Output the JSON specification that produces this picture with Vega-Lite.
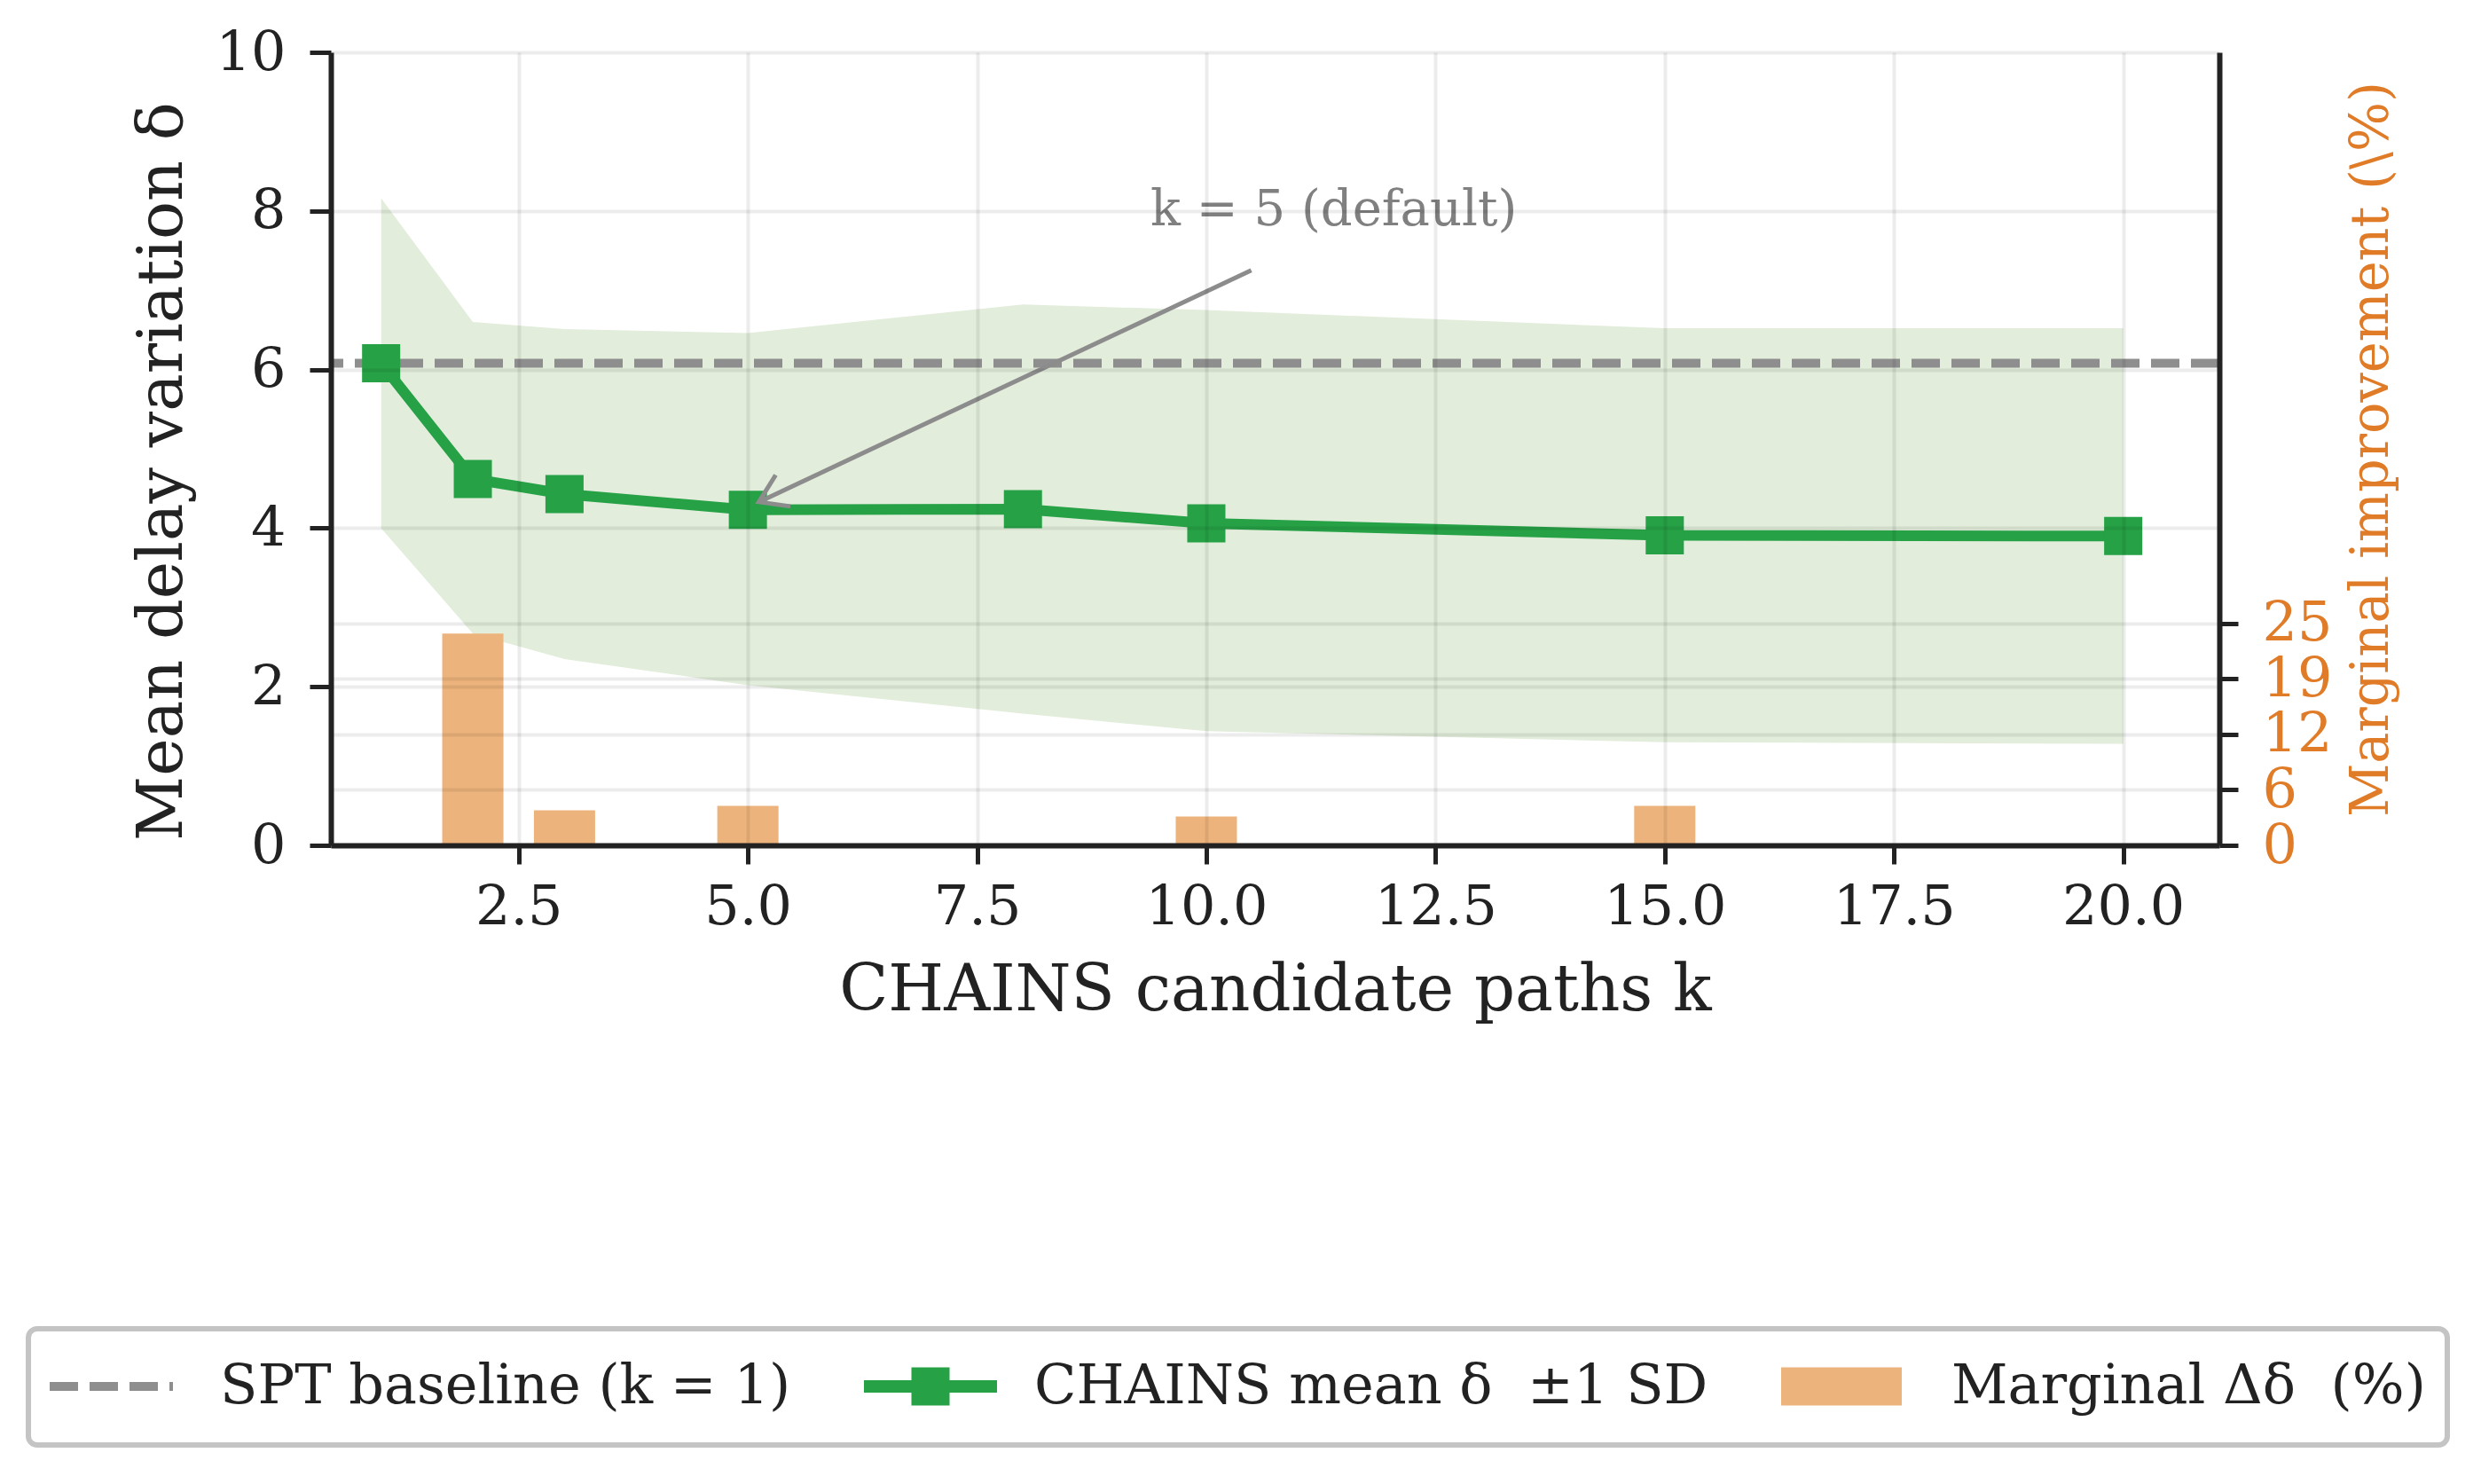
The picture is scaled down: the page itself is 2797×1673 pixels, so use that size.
{
  "$schema": "https://vega.github.io/schema/vega-lite/v6.json",
  "width": 2129,
  "height": 894,
  "autosize": {"type": "none"},
  "padding": {"left": 373, "top": 59, "right": 295, "bottom": 720},
  "background": "white",
  "config": {
    "font": "DejaVu Serif",
    "view": {"stroke": null},
    "legend": {"strokeWidth": 6}
  },
  "datasets": {
    "stats": [
      {"k": 1, "mean": 6.08, "lo": 4.00, "hi": 8.16},
      {"k": 2, "mean": 4.62, "lo": 2.67, "hi": 6.60},
      {"k": 3, "mean": 4.43, "lo": 2.35, "hi": 6.51},
      {"k": 5, "mean": 4.23, "lo": 2.02, "hi": 6.46},
      {"k": 8, "mean": 4.24, "lo": 1.66, "hi": 6.82},
      {"k": 10, "mean": 4.06, "lo": 1.44, "hi": 6.75},
      {"k": 15, "mean": 3.91, "lo": 1.30, "hi": 6.52},
      {"k": 20, "mean": 3.90, "lo": 1.28, "hi": 6.52}
    ],
    "marginal": [
      {"k": 2, "pct": 23.86},
      {"k": 3, "pct": 3.94},
      {"k": 5, "pct": 4.45},
      {"k": 10, "pct": 3.24},
      {"k": 15, "pct": 4.45},
      {"k": 20, "pct": 0.15}
    ],
    "baseline": [{"delta": 6.08}],
    "legend_items": [
      {"series": "SPT baseline (k = 1)"},
      {"series": "CHAINS mean δ\u00a0\u00a0±1 SD"},
      {"series": "Marginal Δδ\u00a0\u00a0(%)"}
    ],
    "annot": [{"x0": 10.49, "y0": 7.25, "x1": 5.12, "y1": 4.33, "tx": 11.39, "ty": 7.82, "label": "k = 5 (default)"}]
  },
  "layer": [
    {
      "data": {"name": "stats"},
      "mark": {"type": "area", "color": "#E2EDDB", "opacity": 1},
      "encoding": {
        "x": {
          "field": "k", "type": "quantitative",
          "scale": {"domain": [0.5, 21.0], "nice": false, "zero": false},
          "axis": {
            "title": "CHAINS candidate paths k",
            "values": [2.5, 5, 7.5, 10, 12.5, 15, 17.5, 20],
            "format": ".1f",
            "labelFont": "DejaVu Serif", "labelFontSize": 62, "labelColor": "#222222",
            "labelPadding": 18, "labelFlush": false, "labelOverlap": false,
            "tickSize": 21, "tickWidth": 5, "tickColor": "#222222",
            "domainColor": "#222222", "domainWidth": 6,
            "grid": true, "gridColor": "#000000", "gridOpacity": 0.075, "gridWidth": 4,
            "titleFont": "DejaVu Serif", "titleFontSize": 72, "titleFontWeight": "normal",
            "titleColor": "#222222", "titlePadding": 28,
            "zindex": 1
          }
        },
        "y": {"field": "hi", "type": "quantitative", "scale": {"domain": [0, 10], "nice": false}, "axis": null},
        "y2": {"field": "lo"}
      }
    },
    {
      "data": {"name": "marginal"},
      "mark": {"type": "bar", "size": 69, "color": "#EDB37C", "orient": "vertical"},
      "encoding": {
        "x": {"field": "k", "type": "quantitative", "scale": {"domain": [0.5, 21.0], "nice": false, "zero": false}},
        "y": {
          "field": "pct", "type": "quantitative",
          "scale": {"domain": [0, 89.3], "nice": false},
          "axis": {
            "orient": "right",
            "title": "Marginal improvement (\\%)",
            "values": [0, 6.25, 12.5, 18.75, 25],
            "labelExpr": "datum.value === 12.5 ? '12' : format(datum.value, '.0f')",
            "labelFont": "DejaVu Serif", "labelFontSize": 62, "labelColor": "#E07B28",
            "labelPadding": 27, "labelFlush": false, "labelOverlap": false,
            "tickSize": 21, "tickWidth": 5, "tickColor": "#222222",
            "domainColor": "#222222", "domainWidth": 6,
            "grid": true, "gridColor": "#000000", "gridOpacity": 0.075, "gridWidth": 4,
            "titleFont": "DejaVu Serif", "titleFontSize": 59, "titleFontWeight": "normal",
            "titleColor": "#E07B28", "titleAngle": 270, "titleBaseline": "top",
            "titlePadding": 16,
            "zindex": 1
          }
        }
      }
    },
    {
      "layer": [
        {
          "data": {"name": "baseline"},
          "mark": {"type": "rule", "color": "#8E8E8E", "strokeWidth": 10, "strokeDash": [32, 13]},
          "encoding": {
            "y": {
              "field": "delta", "type": "quantitative",
              "scale": {"domain": [0, 10], "nice": false},
              "axis": {
                "title": "Mean delay variation δ",
                "values": [0, 2, 4, 6, 8, 10],
                "format": "d",
                "labelFont": "DejaVu Serif", "labelFontSize": 62, "labelColor": "#222222",
                "labelPadding": 27, "labelFlush": false, "labelOverlap": false,
                "tickSize": 24, "tickWidth": 5, "tickColor": "#222222",
                "domainColor": "#222222", "domainWidth": 6,
                "grid": true, "gridColor": "#000000", "gridOpacity": 0.075, "gridWidth": 4,
                "titleFont": "DejaVu Serif", "titleFontSize": 71.5, "titleFontWeight": "normal",
                "titleColor": "#222222", "titlePadding": 24, "titleY": 472,
                "zindex": 1
              }
            }
          }
        },
        {
          "data": {"name": "stats"},
          "mark": {"type": "line", "color": "#26A146", "strokeWidth": 12},
          "encoding": {
            "x": {"field": "k", "type": "quantitative", "scale": {"domain": [0.5, 21.0], "nice": false, "zero": false}},
            "y": {"field": "mean", "type": "quantitative"}
          }
        },
        {
          "data": {"name": "stats"},
          "mark": {"type": "point", "shape": "square", "filled": true, "size": 1849, "opacity": 1, "color": "#26A146"},
          "encoding": {
            "x": {"field": "k", "type": "quantitative", "scale": {"domain": [0.5, 21.0], "nice": false, "zero": false}},
            "y": {"field": "mean", "type": "quantitative"}
          }
        },
        {
          "data": {"name": "annot"},
          "mark": {"type": "rule", "color": "#8C8C8C", "strokeWidth": 5},
          "encoding": {
            "x": {"field": "x0", "type": "quantitative", "scale": {"domain": [0.5, 21.0], "nice": false, "zero": false}},
            "y": {"field": "y0", "type": "quantitative"},
            "x2": {"field": "x1"},
            "y2": {"field": "y1"}
          }
        },
        {
          "data": {"name": "annot"},
          "mark": {"type": "point", "shape": "M-1,-0.65L0,0L-1,0.65", "filled": false, "size": 3600, "strokeWidth": 5, "color": "#8C8C8C", "angle": 155, "opacity": 1},
          "encoding": {
            "x": {"field": "x1", "type": "quantitative", "scale": {"domain": [0.5, 21.0], "nice": false, "zero": false}},
            "y": {"field": "y1", "type": "quantitative"}
          }
        },
        {
          "data": {"name": "annot"},
          "mark": {"type": "text", "font": "DejaVu Serif", "fontSize": 56, "color": "#808080", "baseline": "alphabetic", "align": "center"},
          "encoding": {
            "x": {"field": "tx", "type": "quantitative", "scale": {"domain": [0.5, 21.0], "nice": false, "zero": false}},
            "y": {"field": "ty", "type": "quantitative"},
            "text": {"field": "label"}
          }
        },
        {
          "data": {"name": "legend_items"},
          "mark": {"type": "point", "filled": true, "size": 6724, "opacity": 0},
          "encoding": {
            "color": {
              "field": "series", "type": "nominal",
              "scale": {
                "domain": ["SPT baseline (k = 1)", "CHAINS mean δ\u00a0\u00a0±1 SD", "Marginal Δδ\u00a0\u00a0(%)"],
                "range": ["#8E8E8E", "#26A146", "#EDB37C"]
              },
              "legend": {
                "title": null,
                "orient": "none",
                "legendX": -341,
                "legendY": 1439,
                "direction": "horizontal",
                "labelFont": "DejaVu Serif", "labelFontSize": 62, "labelColor": "#222222",
                "symbolSize": 6724,
                "symbolOpacity": 1,
                "symbolStrokeWidth": 0,
                "labelOffset": 110,
                "columnPadding": 82,
                "padding": 24,
                "labelLimit": 2000,
                "strokeColor": "#C4C4C4",
                "fillColor": "#FFFFFF",
                "cornerRadius": 10
              }
            },
            "shape": {
              "field": "series", "type": "nominal",
              "scale": {
                "domain": ["SPT baseline (k = 1)", "CHAINS mean δ\u00a0\u00a0±1 SD", "Marginal Δδ\u00a0\u00a0(%)"],
                "range": [
                  "M-1,-1.02V1.02H-1ZM-1,-0.122H-0.22V0.122H-1ZM0.097,-0.122H0.878V0.122H0.097ZM1.195,-0.122H1.976V0.122H1.195ZM2.293,-0.122H2.39V0.122H2.293Z",
                  "M-1,-1.02V1.02H-1ZM-1,-0.171H0.305V-0.524H1.354V-0.171H2.659V0.171H1.354V0.524H0.305V0.171H-1Z",
                  "M-1,-1.02V1.02H-1ZM-1,-0.524H2.317V0.524H-1Z"
                ]
              },
              "legend": {
                "title": null,
                "orient": "none",
                "legendX": -341,
                "legendY": 1439,
                "direction": "horizontal",
                "labelFont": "DejaVu Serif", "labelFontSize": 62, "labelColor": "#222222",
                "symbolSize": 6724,
                "symbolOpacity": 1,
                "symbolStrokeWidth": 0,
                "labelOffset": 110,
                "columnPadding": 82,
                "padding": 24,
                "labelLimit": 2000,
                "strokeColor": "#C4C4C4",
                "fillColor": "#FFFFFF",
                "cornerRadius": 10
              }
            }
          }
        }
      ]
    }
  ],
  "resolve": {"scale": {"y": "independent"}}
}
